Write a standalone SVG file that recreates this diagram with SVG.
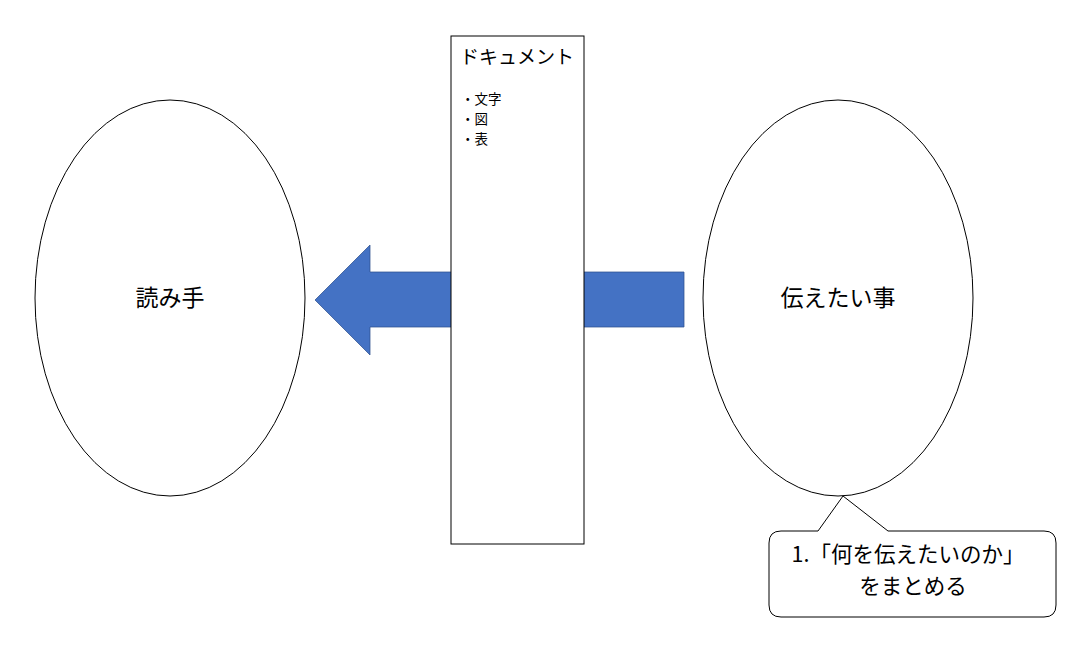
<svg xmlns="http://www.w3.org/2000/svg" width="1084" height="645" viewBox="0 0 1084 645">
<style>
text{font-family:"Noto Sans CJK JP","Liberation Sans",sans-serif;fill:#000}
.node{fill:#fff;stroke:#000;stroke-width:1}
.arrow{fill:#4472C4;stroke:#2F528F;stroke-width:0.75}
.lbl{font-size:23px;text-anchor:middle}
.note{font-size:21.5px;text-anchor:middle}
.item{font-size:13.5px}
</style>
<rect width="1084" height="645" fill="#fff"/>
<g id="reader"><ellipse class="node" cx="170" cy="298" rx="135" ry="198"/><text class="lbl" x="170" y="306">読み手</text></g>
<g id="message"><ellipse class="node" cx="838" cy="298" rx="135" ry="198"/><text class="lbl" x="838" y="306">伝えたい事</text></g>
<g id="connectors"><polygon class="arrow" points="684,272 370,272 370,245 315,300 370,355 370,327 684,327"/></g>
<g id="document"><rect class="node" x="451" y="36" width="133" height="508"/>
<text x="460" y="64" font-size="19">ドキュメント</text>
<text class="item"><tspan x="461" y="104">・文字</tspan><tspan x="461" y="123.8">・図</tspan><tspan x="461" y="143.6">・表</tspan></text></g>
<g id="callout"><path class="node" d="M781,531 L818,531 L843,496 L888,531 L1044,531 Q1056,531 1056,543 L1056,605 Q1056,617 1044,617 L781,617 Q769,617 769,605 L769,543 Q769,531 781,531 Z"/>
<text class="note"><tspan x="908" y="562">1.「何を伝えたいのか」</tspan><tspan x="913" y="593.5">をまとめる</tspan></text></g>
</svg>
